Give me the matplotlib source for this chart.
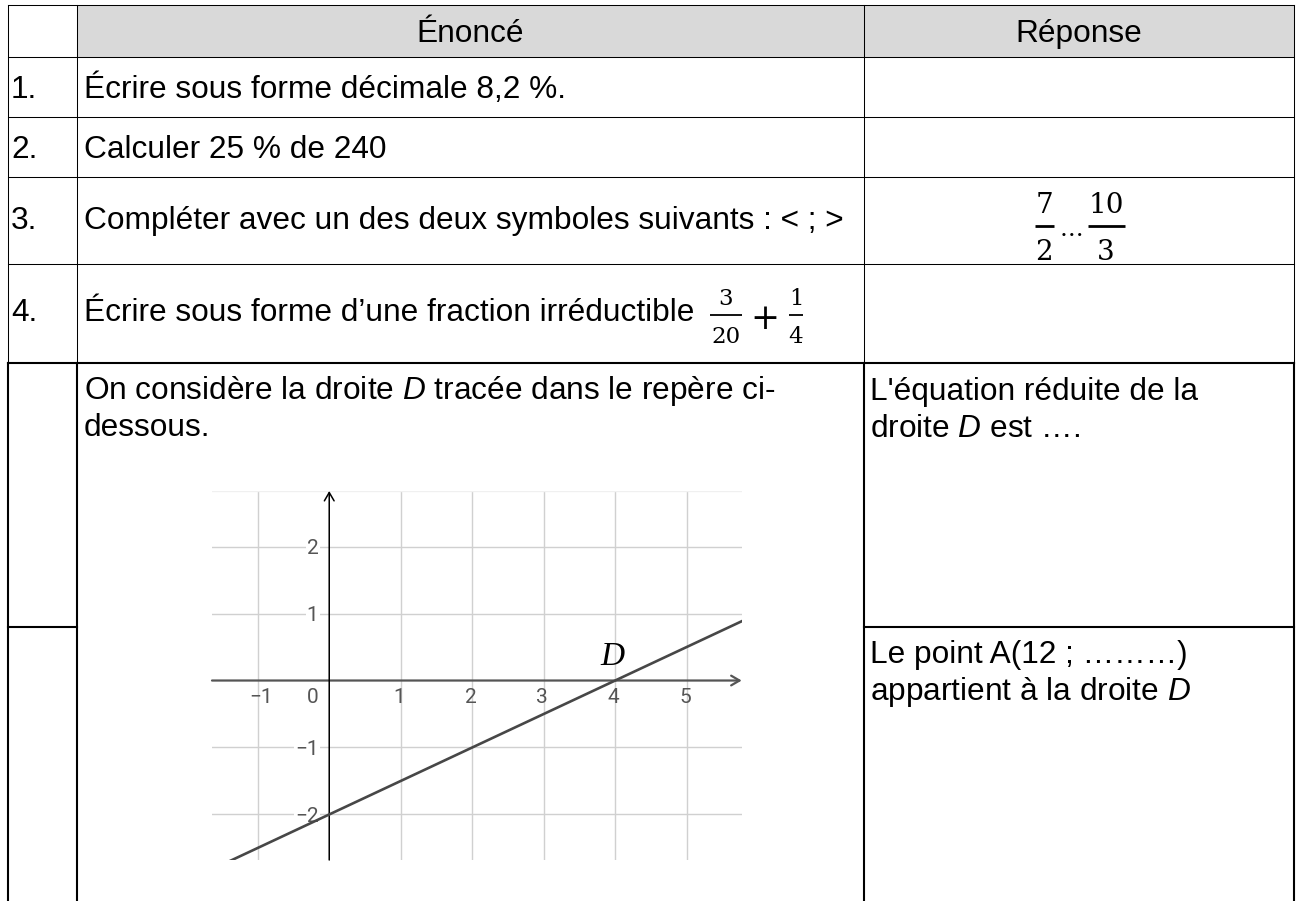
import matplotlib
matplotlib.use("Agg")
import matplotlib.pyplot as plt
from matplotlib.patches import Rectangle

plt.rcParams['font.family'] = ['Liberation Sans', 'DejaVu Sans']
plt.rcParams['mathtext.fontset'] = 'custom'
plt.rcParams['mathtext.rm'] = 'Liberation Sans'
plt.rcParams['mathtext.it'] = 'Liberation Sans:italic'

# table content
headers = ["Énoncé", "Réponse"]
numbers = ["1.", "2.", "3.", "4."]
questions = ["Écrire sous forme décimale 8,2 %.",
             "Calculer 25 % de 240",
             "Compléter avec un des deux symboles suivants : < ; >",
             "Écrire sous forme d’une fraction irréductible"]
q5_lines = ["On considère la droite $D$ tracée dans le repère ci-", "dessous."]
ans5a = ["L'équation réduite de la", "droite $D$ est …."]
ans5b = ["Le point A(12 ; ………)", "appartient à la droite $D$"]
frac3 = [("7", "2"), ("10", "3")]
frac4 = [("3", "20"), ("1", "4")]

# graph content
xticks = [-1, 1, 2, 3, 4, 5]
yticks = [-2, -1, 1, 2]
xlim = (-1.64, 5.77)
ylim = (-2.68, 2.83)
line_x = [-1.64, 5.77]
line_y = [-2.82, 0.885]

fig = plt.figure(figsize=(13, 9.01), dpi=100)
ax = fig.add_axes([0, 0, 1, 1])
ax.set_xlim(0, 1300)
ax.set_ylim(901, 0)
ax.axis('off')

fs = 22.8
L, C1, C2, R = 7.5, 77, 864, 1294
thin = 0.75
thick = 1.5

ax.add_patch(Rectangle((C1, 5), R - C1, 52, facecolor='#d9d9d9', edgecolor='none'))

for y in [5, 57, 117, 177, 264]:
    ax.plot([L, R], [y, y], color='black', lw=thin)
for x in [L, C1, C2, R]:
    ax.plot([x, x], [5, 363], color='black', lw=thin)
    ax.plot([x, x], [363, 901], color='black', lw=thick)
ax.plot([L, R], [363, 363], color='black', lw=thick)
ax.plot([L, C1], [626.7, 626.7], color='black', lw=thick)
ax.plot([C2, R], [626.7, 626.7], color='black', lw=thick)

ax.text((C1 + C2) / 2, 42, headers[0], fontsize=fs, ha='center', va='baseline')
ax.text((C2 + R) / 2, 42, headers[1], fontsize=fs, ha='center', va='baseline')

baselines = [98, 158, 229, 321]
for n, q, b in zip(numbers, questions, baselines):
    ax.text(11, b, n, fontsize=fs, va='baseline')
    ax.text(84, b, q, fontsize=fs, va='baseline')

for i, s in enumerate(q5_lines):
    ax.text(84, 399 + 37 * i, s, fontsize=fs, va='baseline')
for i, s in enumerate(ans5a):
    ax.text(870, 400 + 37 * i, s, fontsize=fs, va='baseline')
for i, s in enumerate(ans5b):
    ax.text(870, 663 + 37 * i, s, fontsize=fs, va='baseline')

# fractions
def fraction(xc, ybar, num, den, w, up, down, size, lw):
    half = 0.729 * size * 100 / 72 / 2
    ax.text(xc, ybar - up + half, num, fontsize=size, family='DejaVu Serif',
            ha='center', va='baseline')
    ax.text(xc, ybar + down + half, den, fontsize=size, family='DejaVu Serif',
            ha='center', va='baseline')
    ax.plot([xc - w / 2, xc + w / 2], [ybar, ybar], color='black', lw=lw,
            solid_capstyle='butt')

fraction(1044, 225.7, frac3[0][0], frac3[0][1], 19, 22.7, 24.3, 20, 2.0)
ax.text(1071, 236, "…", fontsize=17, family='DejaVu Serif', ha='center', va='baseline')
fraction(1106, 225.7, frac3[1][0], frac3[1][1], 37, 22.7, 24.3, 20, 2.0)

fraction(726, 315, frac4[0][0], frac4[0][1], 32, 18, 20, 16.5, 1.3)
ax.text(765, 329, "+", fontsize=25, family='DejaVu Serif', ha='center', va='baseline')
fraction(796, 315, frac4[1][0], frac4[1][1], 14, 18, 20, 16.5, 1.3)

# graph
gl, gr, gt, gb = 212, 741.7, 491, 860
g = fig.add_axes([gl / 1300, 1 - gb / 901, (gr - gl) / 1300, (gb - gt) / 901])
g.set_xlim(xlim)
g.set_ylim(ylim)
g.axis('off')

for x in xticks:
    g.axvline(x, color='#d0d0d0', lw=1.0, zorder=1)
for y in yticks:
    g.axhline(y, color='#d0d0d0', lw=1.0, zorder=1)
g.axhline(ylim[1], color='#f0f0f0', lw=1.0, zorder=1)

g.annotate('', xy=(xlim[1], 0), xytext=(xlim[0], 0),
           arrowprops=dict(arrowstyle='->,head_length=0.6,head_width=0.35',
                           color='#555555', lw=1.6, shrinkA=0, shrinkB=0), zorder=3)
g.annotate('', xy=(0, ylim[1]), xytext=(0, ylim[0]),
           arrowprops=dict(arrowstyle='->,head_length=0.6,head_width=0.35',
                           color='black', lw=1.1, shrinkA=0, shrinkB=0), zorder=3)

tick_kw = dict(fontsize=15, family='Roboto', color='#555555')
for x in xticks:
    lab = str(x).replace('-', '−')
    g.text(x + (0.04 if x < 0 else -0.02), -0.26, lab, ha='center', va='center', **tick_kw)
g.text(-0.23, -0.26, "0", ha='center', va='center', **tick_kw)
for y in yticks:
    lab = str(y).replace('-', '−')
    g.text(-0.15, y - 0.03, lab, ha='right', va='center', zorder=2,
           bbox=dict(facecolor='white', edgecolor='none', pad=0.8), **tick_kw)

g.plot(line_x, line_y, color='#474747', lw=1.9, zorder=4, clip_on=True)
g.text(3.96, 0.36, "D", fontsize=24, family='Liberation Serif', style='italic',
       ha='center', va='center', zorder=5)

fig.savefig("out.png", dpi=100)
